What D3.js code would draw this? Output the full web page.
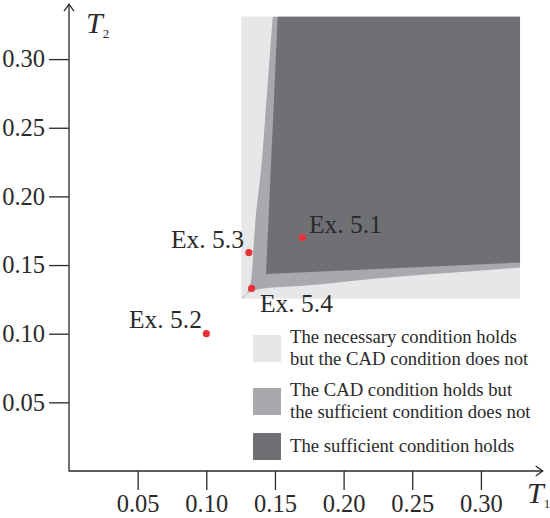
<!DOCTYPE html>
<html><head><meta charset="utf-8">
<script src="https://cdn.jsdelivr.net/npm/d3@7"></script>
<style>body{margin:0;background:#fff}svg{display:block}</style>
</head><body>
<svg id="c" width="550" height="518"></svg>
<script>
// ---- data ----
const xTicks = [0.05, 0.10, 0.15, 0.20, 0.25, 0.30];
const yTicks = [0.05, 0.10, 0.15, 0.20, 0.25, 0.30];
const regionMax = [0.3285, 0.331];        // computed region extent [T1, T2]
const necessaryMin = 0.1255;              // necessary condition: T1,T2 >= this
// CAD boundary h(s): lower edge T2=h(T1); left edge T1=h(T2) (symmetric)
const cadS = [0.1258, 0.1318, 0.1415, 0.168, 0.23, 0.27, 0.331];
const cadH = [0.1262, 0.1306, 0.1330, 0.1347, 0.1408, 0.1438, 0.1484];
// sufficient boundary g(s)
const sufS = [0.1435, 0.331];
const sufH = [0.1435, 0.1520];
const exLabels = ["Ex. 5.1", "Ex. 5.2", "Ex. 5.3", "Ex. 5.4"];
const exT1 = [0.17, 0.10, 0.131, 0.133];
const exT2 = [0.17, 0.10, 0.159, 0.133];
const legendLabels = [
  ["The necessary condition holds", "but the CAD condition does not"],
  ["The CAD condition holds but", "the sufficient condition does not"],
  ["The sufficient condition holds"]
];
const colors = ["#e6e7e9", "#a7a9ac", "#6f7074"];

// ---- layout ----
const svg = d3.select("#c");
const x = d3.scaleLinear().domain([0, 0.345]).range([69, 69 + 0.345 * 1373]);
const y = d3.scaleLinear().domain([0, 0.34]).range([471, 471 - 0.34 * 1373]);
const font = "'Liberation Serif','Times New Roman',serif";
const ink = "#2a2a2a";

svg.append("clipPath").attr("id", "reg").append("rect")
  .attr("x", x(necessaryMin)).attr("y", y(regionMax[1]))
  .attr("width", x(regionMax[0]) - x(necessaryMin))
  .attr("height", y(necessaryMin) - y(regionMax[1]));

// light region
svg.append("rect")
  .attr("x", x(necessaryMin)).attr("y", y(regionMax[1]))
  .attr("width", x(regionMax[0]) - x(necessaryMin))
  .attr("height", y(necessaryMin) - y(regionMax[1]))
  .attr("fill", colors[0]);

function regionPath(S, H, curve) {
  const left = S.map((s, i) => [x(H[i]), y(s)]).reverse();
  const bottom = S.map((s, i) => [x(s), y(H[i])]);
  const ln = d3.line().curve(curve);
  const top = S[S.length - 1];
  return ln(left) + ln(bottom).replace("M", "L") + "L" + x(top) + "," + y(top) + "Z";
}
const g = svg.append("g").attr("clip-path", "url(#reg)");
g.append("path").attr("d", regionPath(cadS, cadH, d3.curveMonotoneX)).attr("fill", colors[1]);
g.append("path").attr("d", regionPath(sufS, sufH, d3.curveLinear)).attr("fill", colors[2]);

// axes
const ax = svg.append("g").attr("transform", `translate(0,${y(0)})`)
  .call(d3.axisBottom(x).tickValues(xTicks).tickSize(19).tickPadding(5).tickFormat(d3.format(".2f")));
const ay = svg.append("g").attr("transform", `translate(${x(0)},0)`)
  .call(d3.axisLeft(y).tickValues(yTicks).tickSize(20).tickPadding(4).tickFormat(d3.format(".2f")));
[ax, ay].forEach(a => {
  a.select(".domain").remove();
  a.selectAll("line").attr("stroke", ink).attr("stroke-width", 1.3);
  a.selectAll("text").attr("fill", ink).style("font-family", font).style("font-size", "24.5px");
});
const xEnd = x(0.345), yEnd = y(0.34);
svg.append("path")
  .attr("d", `M${x(0)},${yEnd}V${y(0)}H${xEnd}`)
  .attr("fill", "none").attr("stroke", ink).attr("stroke-width", 1.3);
svg.append("path")
  .attr("d", `M${x(0)-5},${yEnd+7}L${x(0)},${yEnd}L${x(0)+5},${yEnd+7}M${xEnd-7},${y(0)-5}L${xEnd},${y(0)}L${xEnd-7},${y(0)+5}`)
  .attr("fill", "none").attr("stroke", ink).attr("stroke-width", 1.3);

// axis titles
function axTitle(px, py, sub) {
  const t = svg.append("text").attr("x", px).attr("y", py).attr("fill", ink)
    .style("font-family", font);
  t.append("tspan").text("T").style("font-style", "italic").style("font-size", "30px");
  t.append("tspan").text(sub).attr("dy", 5).style("font-size", "13px");
}
axTitle(86, 33, "2");
axTitle(527, 503, "1");

// points & labels
const lblPos = [[309, 233, "start"], [202, 328, "end"], [244, 248, "end"], [260, 312, "start"]];
exLabels.forEach((lab, i) => {
  svg.append("circle").attr("cx", x(exT1[i])).attr("cy", y(exT2[i])).attr("r", 3.6).attr("fill", "#e8323a");
  svg.append("text").attr("x", lblPos[i][0]).attr("y", lblPos[i][1]).attr("text-anchor", lblPos[i][2])
    .attr("fill", ink).style("font-family", font).style("font-size", "25.5px").text(lab);
});

// legend
const legTop = [335, 388, 433];
legendLabels.forEach((lines, i) => {
  svg.append("rect").attr("x", 253).attr("y", legTop[i]).attr("width", 28).attr("height", 27).attr("fill", colors[i]);
  const n = lines.length;
  const cy = legTop[i] + 13.5;
  lines.forEach((l, j) => {
    svg.append("text").attr("x", 290).attr("y", cy + 5 + (j - (n - 1) / 2) * 22)
      .attr("fill", ink).style("font-family", font).style("font-size", "18.7px").text(l);
  });
});
</script>
</body></html>
